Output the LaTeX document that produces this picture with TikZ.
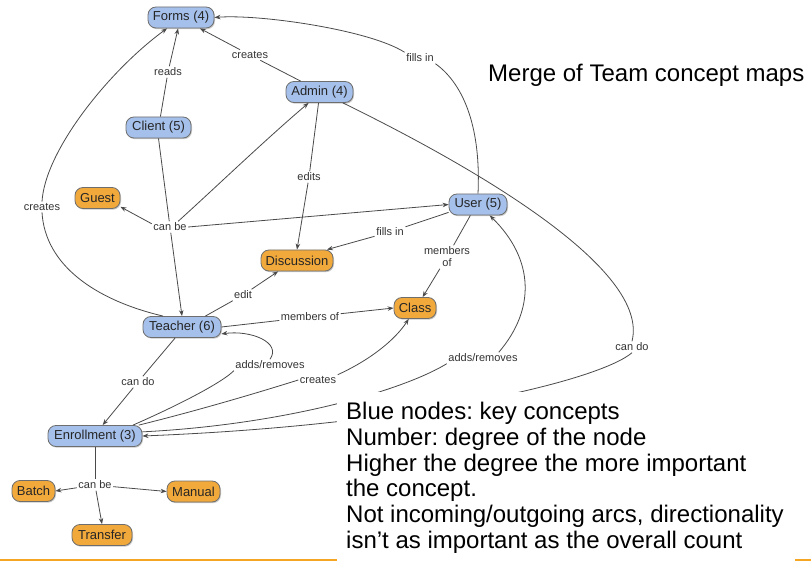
\documentclass[tikz,border=0pt]{standalone}
\usepackage{fontspec}
\setmainfont{Liberation Sans}
\usetikzlibrary{arrows.meta,shadows}
\frenchspacing

\definecolor{conceptblue}{HTML}{A5C0EB}
\definecolor{conceptorange}{HTML}{F2A93B}
\definecolor{nodeborder}{HTML}{6E6E6E}
\definecolor{linkgray}{HTML}{4A4A4A}
\definecolor{ruleorange}{HTML}{F5A623}

\tikzset{
  concept/.style={draw=nodeborder, line width=0.8pt, rounded corners=8pt,
    minimum height=21pt, inner xsep=3pt, inner ysep=0pt,
    font=\fontsize{13}{15}\selectfont, text=black!85,
    drop shadow={shadow xshift=1pt, shadow yshift=-1.2pt, fill=black!35, opacity=0.6}},
  key/.style={concept, fill=conceptblue},
  leaf/.style={concept, fill=conceptorange},
  phrase/.style={font=\fontsize{11}{12}\selectfont, text=black!80, inner sep=1.5pt, align=center},
  link/.style={draw=linkgray, line width=0.8pt},
  tolink/.style={link, -{Stealth[length=6pt,width=4.5pt]}},
}

\begin{document}
\begin{tikzpicture}[x=1pt,y=-1pt]
\useasboundingbox (0,0) rectangle (811,569);

% concepts
\node[key,  minimum width=66pt] (forms)      at (181,17.5)  {Forms (4)};
\node[key,  minimum width=67pt] (admin)      at (319.5,92)  {Admin (4)};
\node[key,  minimum width=65pt] (client)     at (158.5,127.5) {Client (5)};
\node[leaf, minimum width=45pt] (guest)      at (97.5,198)  {Guest};
\node[key,  minimum width=58pt] (user)       at (478,204.5) {User (5)};
\node[leaf, minimum width=72pt] (discussion) at (297,260.5) {Discussion};
\node[leaf, minimum width=42pt] (class)      at (415,308)   {Class};
\node[key,  minimum width=78pt] (teacher)    at (182,327)   {Teacher (6)};
\node[key,  minimum width=94pt] (enrollment) at (95,436)    {Enrollment (3)};
\node[leaf, minimum width=43pt] (batch)      at (33.5,491)  {Batch};
\node[leaf, minimum width=53pt] (manual)     at (193.5,491.5) {Manual};
\node[leaf, minimum width=60pt] (transfer)   at (102,535)   {Transfer};

% linking phrases
\node[phrase] (cre1)    at (250,55)  {creates};
\node[phrase] (reads)   at (168,72)  {reads};
\node[phrase] (cre3)    at (42,207)  {creates};
\node[phrase] (fill1)   at (420,58)  {fills in};
\node[phrase] (canbe)   at (170,227) {can be};
\node[phrase] (edits)   at (309,177) {edits};
\node[phrase] (fill2)   at (390,232) {fills in};
\node[phrase] (edit)    at (243,295) {edit};
\node[phrase] (mem1)    at (310,317) {members of};
\node[phrase] (mem2)    at (447,257) {members\\of};
\node[phrase] (cando1)  at (138,382) {can do};
\node[phrase] (addrem1) at (270,365) {adds/removes};
\node[phrase] (cre4)    at (318,380) {creates};
\node[phrase] (addrem2) at (483,358) {adds/removes};
\node[phrase] (cando2)  at (632,347) {can do};
\node[phrase] (canbe2)  at (95,485)  {can be};

% links into Forms
\draw[link] (admin.150) -- (cre1);
\draw[tolink] (cre1) -- (forms.-30);
\draw[link] (client.80) -- (reads);
\draw[tolink] (reads) -- (forms.-105);
\draw[link] (teacher.150) .. controls (95,300) and (45,265) .. (cre3.south);
\draw[tolink] (cre3.north) .. controls (45,150) and (110,70) .. (forms.-142);
\draw[link] (user.north) .. controls (481,130) and (465,85) .. (fill1.south east);
\draw[tolink] (fill1.north west) .. controls (370,30) and (260,14) .. (forms.east);

% Client can be ...
\draw[link] (client.south) -- (canbe);
\draw[tolink] (canbe) -- (teacher.north);
\draw[tolink] (canbe.170) -- (guest.-21);
\draw[tolink] (canbe.35) .. controls (215,188) and (265,140) .. (admin.-135);
\draw[tolink] (canbe.east) -- (user.west);

% links into Discussion
\draw[link] (admin.-95) -- (edits);
\draw[tolink] (edits) -- (discussion.north);
\draw[link] (user.-165) -- (fill2);
\draw[tolink] (fill2) -- (discussion.20);
\draw[link] (teacher.25) -- (edit);
\draw[tolink] (edit) -- (discussion.-150);

% links into Class
\draw[link] (teacher.east) -- (mem1);
\draw[tolink] (mem1) -- (class.west);
\draw[link] (user.-125) -- (mem2);
\draw[tolink] (mem2) -- (class.55);
\draw[link] (enrollment.14) .. controls (200,410) and (260,392) .. (cre4.west);
\draw[tolink] (cre4.north east) .. controls (370,360) and (395,340) .. (class.-120);

% Teacher and Enrollment
\draw[link] (teacher.-122) -- (cando1);
\draw[tolink] (cando1) -- (enrollment.55);
\draw[link] (enrollment.16) .. controls (190,400) and (225,380) .. (addrem1.south west);
\draw[tolink] (addrem1.north) .. controls (282,342) and (250,330) .. (teacher.-10);

% long arcs on the right
\draw[link] (enrollment.5) .. controls (280,425) and (400,392) .. (addrem2.south west);
\draw[tolink] (addrem2.20) .. controls (535,310) and (535,260) .. (user.-43);
\draw[link] (admin.-25) .. controls (480,170) and (650,270) .. (cando2.north);
\draw[tolink] (cando2.south) .. controls (600,380) and (420,425) .. (enrollment.east);

% Enrollment can be ...
\draw[link] (enrollment.south) -- (canbe2);
\draw[tolink] (canbe2) -- (batch.east);
\draw[tolink] (canbe2) -- (manual.west);
\draw[tolink] (canbe2) -- (transfer.north);

% slide rule and text
\draw[ruleorange, line width=1.5pt] (0,560) -- (811,560);
\fill[white] (337,392) rectangle (795,569);

\node[anchor=west, font=\fontsize{24}{28}\selectfont, inner sep=0pt] (title) at (488,75) {Merge of Team concept maps};

\node[anchor=north west, align=left, inner sep=0pt, font=\fontsize{24}{25.8}\selectfont] (note) at (346,402)
  {Blue nodes: key concepts\\
   Number: degree of the node\\
   Higher the degree the more important\\
   the concept.\\
   Not incoming/outgoing arcs, directionality\\
   isn’t as important as the overall count};
\end{tikzpicture}
\end{document}
